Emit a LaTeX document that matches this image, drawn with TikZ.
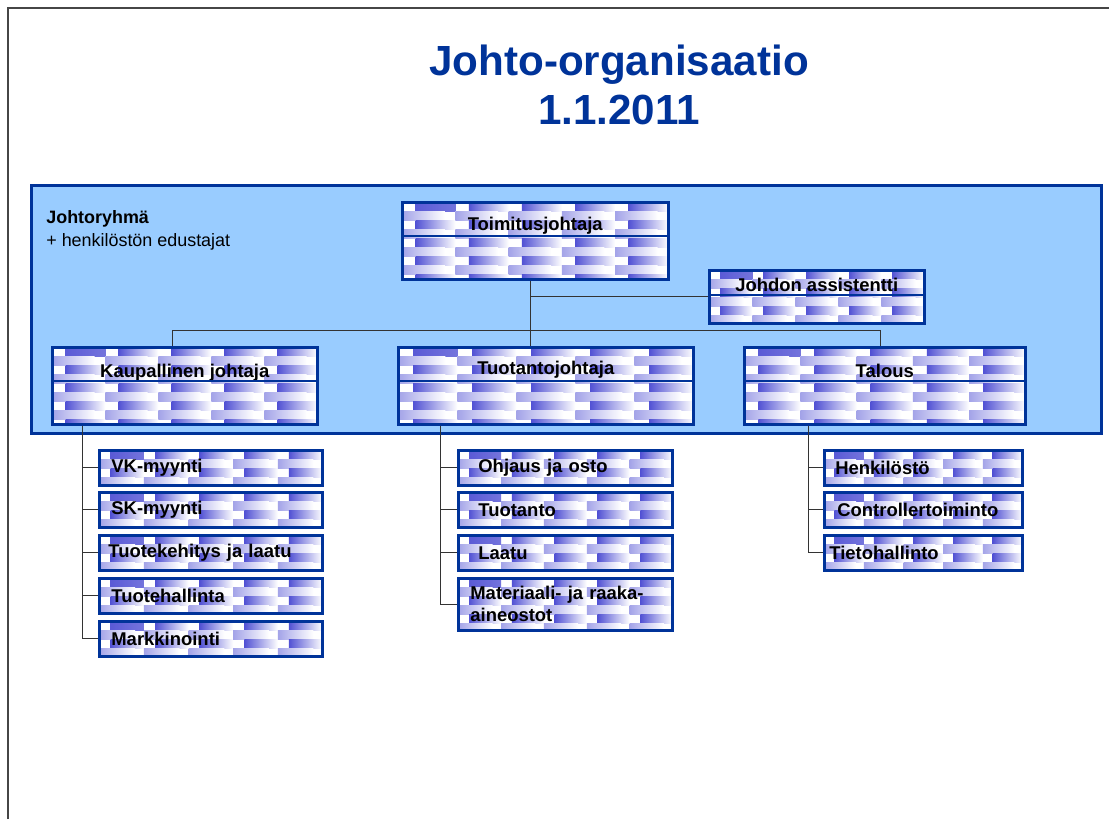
\documentclass[tikz,border=0pt]{standalone}
\usepackage{fontspec}
\setmainfont{Liberation Sans}
\usetikzlibrary{calc}

\definecolor{orgblue}{RGB}{0,51,153}
\definecolor{groupblue}{RGB}{153,204,255}
\definecolor{tileblue}{RGB}{51,51,204}
\definecolor{framegray}{RGB}{70,70,70}

\begin{document}
\begin{tikzpicture}[x=0.02cm, y=-0.02cm]


% GLOBAL SETTINGS
\newcommand{\boxfont}{\fontsize{10.5}{12.5}\selectfont\bfseries}
\newcommand{\titlefont}{\fontsize{24}{28}\selectfont\bfseries}
\newcommand{\rowh}{0.18cm}
\tikzset{
  tile/.style={left color=tileblue!85, right color=white},
  tiles/.style={path picture={
    \foreach \c in {0,...,5} \foreach \r in {0,...,9} {
      \shade[tile] ($(path picture bounding box.north west)+(\c*#1+0.25*#1,-\r*2*\rowh)$) rectangle ++(0.75*#1,-\rowh);
      \shade[tile, left color=tileblue!45] ($(path picture bounding box.north west)+(\c*#1,-\r*2*\rowh-\rowh)$) rectangle ++(0.8*#1,-\rowh);
    }}},
  orgbox/.style={draw=orgblue, line width=0.05cm, fill=white, anchor=north west, inner sep=0pt, font=\boxfont},
  subbox/.style={orgbox, line width=0.055cm, align=left},
  divider/.style={draw=orgblue, line width=0.04cm},
  conn/.style={draw=black!80, line width=0.02cm},
}

% SHARED CODE
\useasboundingbox (0,0) rectangle (1109,819);
\draw[framegray, line width=0.04cm] (8,819) -- (8,8) -- (1109,8);
% title
\node[font=\titlefont, text=orgblue, anchor=base] (title1) at (619,75) {Johto-organisaatio};
\node[font=\titlefont, text=orgblue, anchor=base] (title2) at (619,124) {1.1.2011};
% management group
\node[draw=orgblue, line width=0.06cm, fill=groupblue, anchor=north west,
  minimum width=1070*0.02cm, minimum height=248*0.02cm] (grp) at (30,184) {};
\node[font=\fontsize{10.2}{12}\selectfont\bfseries, anchor=base west, inner sep=0pt] (grpname) at (46,223) {Johtoryhmä};
\node[font=\fontsize{10.2}{12}\selectfont, anchor=base west, inner sep=0pt] (grpnote) at (46,246) {+ henkilöstön edustajat};
% helper coordinates
\path
(530,330) coordinate (hub)
(172,330) coordinate (hubL)
(880,330) coordinate (hubR)
(82,0) coordinate (spK)
(440,0) coordinate (spP)
(808,0) coordinate (spT);

% MANAGERS
\foreach \nm/\bx/\by/\w/\h/\th/\dv/\txt in {
  tj/401/201/266/77/28/35/Toimitusjohtaja,
  ja/708/269/215/53/21/26/Johdon assistentti,
  kj/51/346/265/77/30/35/Kaupallinen johtaja,
  tu/397/346/295/77/27/35/Tuotantojohtaja,
  ta/743/346/281/77/30/35/Talous} {
  \pgfmathsetlengthmacro{\bw}{\w*0.02cm}
  \pgfmathsetlengthmacro{\bt}{\th*0.02cm}
  \pgfmathsetlengthmacro{\bd}{(\h-\th)*0.02cm}
  \pgfmathsetlengthmacro{\tw}{\w/5*0.02cm}
  \node[orgbox, tiles=\tw, minimum width=\bw, text height=\bt, text depth=\bd] (\nm) at (\bx,\by) {\txt};
  \draw[divider] ($(\nm.north west)+(0,\dv)$) -- ($(\nm.north east)+(0,\dv)$);
}

% UNITS
\foreach \nm/\bx/\by/\w/\h/\xs/\txt in {
  k1/98/449/223/35/12/VK-myynti,
  k2/98/491/223/35/12/SK-myynti,
  k3/98/534/223/35/9/Tuotekehitys ja laatu,
  k4/98/577/223/35/12/Tuotehallinta,
  k5/98/620/223/35/12/Markkinointi,
  p1/457/449/214/35/20/Ohjaus ja osto,
  p2/457/491/214/35/20/Tuotanto,
  p3/457/534/214/35/20/Laatu,
  p4/457/577/214/52/12/{Materiaali- ja raaka-\\aineostot},
  t1/823/449/198/35/11/Henkilöstö,
  t2/823/491/198/35/13/Controllertoiminto,
  t3/823/534/198/35/5/Tietohallinto} {
  \pgfmathsetlengthmacro{\bh}{\h*0.02cm}
  \pgfmathsetlengthmacro{\bs}{\xs*0.02cm}
  \pgfmathsetlengthmacro{\bt}{(\w-2*\xs)*0.02cm}
  \pgfmathsetlengthmacro{\tw}{\w/5*0.02cm}
  \node[subbox, tiles=\tw, minimum height=\bh, text width=\bt, inner xsep=\bs] (\nm) at (\bx,\by) {\txt};
}

% EDGES
\draw[conn] (tj.south -| hub) -- (tu.north -| hub);
\draw[conn] (hub |- ja.west) -- (ja.west);
\draw[conn] (kj.north -| hubL) -- (hubL) -- (hubR) -- (ta.north -| hubR);
\foreach \j in {1,...,5} \draw[conn] (kj.south -| spK) |- (k\j.west);
\foreach \j in {1,...,4} \draw[conn] (tu.south -| spP) |- (p\j.west);
\foreach \j in {1,...,3} \draw[conn] (ta.south -| spT) |- (t\j.west);

\end{tikzpicture}
\end{document}
